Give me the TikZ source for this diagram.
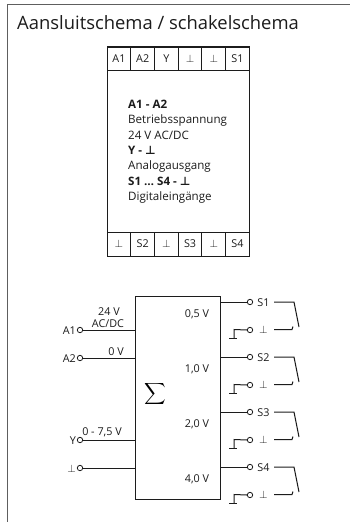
\documentclass[tikz,border=0pt]{standalone}
\usepackage{fontspec}
\setmainfont{Open Sans}
\newfontfamily\symfont{DejaVu Sans}
\definecolor{ink}{HTML}{1C1C1C}
\definecolor{framec}{HTML}{5E5E5E}
\tikzset{
  lbl/.style={inner sep=0pt,text=ink,font=\fontsize{10.8}{12}\selectfont},
  cell/.style={draw=ink,line width=1pt,minimum width=23.7pt,minimum height=24pt,inner sep=0pt,text=ink,font=\fontsize{10.8}{12}\selectfont},
  wire/.style={draw=ink,line width=1pt},
  term/.style={circle,draw=ink,line width=0.8pt,fill=white,minimum size=5.4pt,inner sep=0pt},
  bigbox/.style={draw=ink,line width=1.1pt,inner sep=0pt,anchor=north west},
}
\newcommand{\gnd}{$\perp$}
\newcommand{\gndb}{{\symfont\bfseries ⊥}}
\begin{document}
\begin{tikzpicture}[x=1pt,y=-1pt]
\useasboundingbox (0,0) rectangle (350,522);
\fill[white] (0,0) rectangle (350,522);
\draw[framec,line width=1.5pt] (350,4.5) -- (7.5,4.5) -- (7.5,522);
\node[inner sep=0pt,anchor=west,text=ink,font=\fontsize{18.4}{21}\selectfont] (title) at (17,23) {Aansluitschema / schakelschema};
% terminal block
\node[bigbox,minimum width=142pt,minimum height=209pt] (block) at (107,47) {};
\foreach \n/\t/\x in {ta/A1/119,tb/A2/142.7,tc/Y/166.4,td/\gnd/190.1,te/\gnd/213.8,tf/S1/237.5}
  \node[cell] (\n) at (\x,58.5) {\t};
\foreach \n/\t/\x in {ba/\gnd/119,bb/S2/142.7,bc/\gnd/166.4,bd/S3/190.1,be/\gnd/213.8,bf/S4/237.5}
  \node[cell] (\n) at (\x,244) {\t};
\node[inner sep=0pt,anchor=north west,align=left,text=ink,font=\fontsize{11.6}{15.3}\selectfont] (desc) at (128,100) {%
\textbf{A1 - A2}\\Betriebsspannung\\24 V AC/DC\\\textbf{Y - }\gndb\\Analogausgang\\\textbf{S1 … S4 - }\gndb\\Digitaleingänge};
% schematic
\node[bigbox,minimum width=85pt,minimum height=203pt] (sbox) at (135,296) {};
\node[inner sep=0pt,scale=1.5] (sig) at (155,394) {$\displaystyle\sum$};
\foreach \n/\t/\y in {a/A1/330,b/A2/358,c/Y/440,d/\gnd/468}{
  \node[term] (l\n) at (80,\y) {};
  \draw[wire] (l\n.east) -- (l\n -| sbox.west);
  \node[lbl,anchor=east] (lt\n) at (76,\y+1) {\t};
}
\node[lbl] (v24) at (109,311.5) {24 V};
\node[lbl] (vac) at (108,323.5) {AC/DC};
\node[lbl] (v0) at (116,352) {0 V};
\node[lbl] (v75) at (102,432) {0 - 7,5 V};
\foreach \n/\t/\v/\y in {a/S1/0{,}5 V/302,b/S2/1{,}0 V/357,c/S3/2{,}0 V/412,d/S4/4{,}0 V/467}{
  \node[term] (r\n) at (250,\y) {};
  \draw[wire] (r\n.west) -- (r\n -| sbox.east);
  \node[lbl] (rt\n) at (263.5,\y+0.5) {\t};
  \node[term] (g\n) at (250,\y+28) {};
  \node[lbl] (gt\n) at (263.5,\y+28) {\gnd};
  \node[lbl] (vl\n) at (197,\y+12.5) {\v};
  \coordinate (up\n) at (234,\y+27.5);
  \coordinate (dn\n) at (234,\y+36);
  \coordinate (fa\n) at (229,\y+36);
  \coordinate (fb\n) at (237,\y+36);
  \draw[wire] (g\n.west) -- (up\n) -- (dn\n);
  \draw[wire] (fa\n) -- (fb\n);
  \coordinate (sa\n) at (274,\y);
  \coordinate (sb\n) at (294,\y);
  \coordinate (sc\n) at (299,\y+25);
  \coordinate (sd\n) at (274,\y+27.5);
  \coordinate (se\n) at (292,\y+27.5);
  \coordinate (sf\n) at (293,\y+24.5);
  \draw[wire] (sa\n) -- (sb\n) -- (sc\n);
  \draw[wire] (sd\n) -- (se\n) -- (sf\n);
}
\end{tikzpicture}
\end{document}
